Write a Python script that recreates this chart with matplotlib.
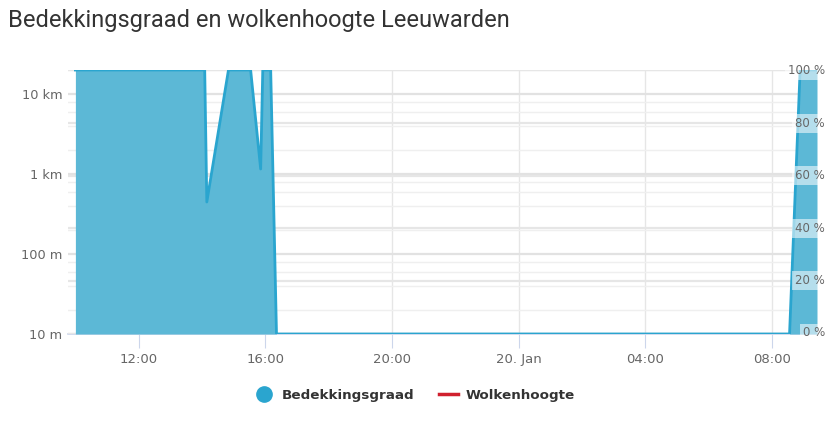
import matplotlib
matplotlib.use('Agg')
from matplotlib import pyplot as plt
from matplotlib.lines import Line2D
import pandas as pd

# Bedekkingsgraad (%)
times = ['2025-01-19 10:00', '2025-01-19 14:05', '2025-01-19 14:09', '2025-01-19 14:50',
         '2025-01-19 15:32', '2025-01-19 15:51', '2025-01-19 15:55', '2025-01-19 16:10',
         '2025-01-19 16:21', '2025-01-20 08:33', '2025-01-20 08:53', '2025-01-20 09:25']
bedekking = [100, 100, 50, 100, 100, 62.5, 100, 100, 0, 0, 100, 100]

# Wolkenhoogte (m): no data in this period
wolken_times = []
wolkenhoogte = []

x_ticks = ['2025-01-19 12:00', '2025-01-19 16:00', '2025-01-19 20:00',
           '2025-01-20 00:00', '2025-01-20 04:00', '2025-01-20 08:00']
x_labels = ['12:00', '16:00', '20:00', '20. Jan', '04:00', '08:00']
height_ticks = [10, 100, 1000, 10000]
height_labels = ['10 m', '100 m', '1 km', '10 km']
pct_ticks = [0, 20, 40, 60, 80, 100]
pct_labels = ['0 %', '20 %', '40 %', '60 %', '80 %', '100 %']

FILL = '#5cb8d6'
LINE = '#2aa5cf'
RED = '#d0202e'

plt.rcParams['font.family'] = ['DejaVu Sans']

fig = plt.figure(figsize=(8.29, 4.26), dpi=100)
ax = fig.add_axes([68 / 829, 1 - 334 / 426, (817 - 68) / 829, (334 - 70) / 426])
ax2 = ax.twinx()

t = pd.to_datetime(times)
xt = pd.to_datetime(x_ticks)
x0 = pd.Timestamp('2025-01-19 09:46')
x1 = pd.Timestamp('2025-01-20 09:25')

# left axis: log height
ax.set_yscale('log')
ax.set_ylim(10, 20000)
ax.set_xlim(x0, x1)
ax.set_yticks(height_ticks)
ax.set_yticklabels(height_labels)
minor = [m * d for d in [10, 100, 1000, 10000] for m in [2, 4, 6, 8]]
ax.set_yticks([v for v in minor if v <= 20000], minor=True)
ax.set_yticklabels([], minor=True)
ax.tick_params(axis='y', which='both', length=0, labelsize=9.3, labelcolor='#666666', pad=4)
ax.grid(True, axis='y', which='major', color='#e2e2e2', linewidth=1.6)
ax.grid(True, axis='y', which='minor', color='#efefef', linewidth=1)
ax.set_xticks(xt)
ax.set_xticklabels(x_labels)
ax.tick_params(axis='x', length=10, color='#ccd6eb', labelsize=9.5, labelcolor='#666666', pad=4)
ax.grid(True, axis='x', color='#e6e6e6', linewidth=1)
for s in ['top', 'right', 'left']:
    ax.spines[s].set_visible(False)
ax.spines['bottom'].set_color('#ccd6eb')
ax.spines['bottom'].set_linewidth(1.2)
ax.set_axisbelow(True)
ax.plot(pd.to_datetime(wolken_times), wolkenhoogte, color=RED, lw=2)

# right axis: coverage
ax2.set_ylim(0, 100)
ax2.set_yticks(pct_ticks)
ax2.set_yticklabels([])
ax2.tick_params(axis='y', length=0)
ax2.grid(True, axis='y', color='#e6e6e6', linewidth=1.6, zorder=0)
ax2.set_axisbelow(True)
for s in ax2.spines.values():
    s.set_visible(False)
ax2.fill_between(t, 0, bedekking, color=FILL, lw=0, zorder=2)
ax2.plot(t, bedekking, color=LINE, lw=2, zorder=3)

for v, lab in zip(pct_ticks, pct_labels):
    ax2.text(825 / 829, 1 - (333 - v * 2.62) / 426, lab, transform=fig.transFigure,
             ha='right', va='center', fontsize=8.5, color='#666666', zorder=5,
             bbox=dict(boxstyle='square,pad=0.25', facecolor='white', alpha=0.55, lw=0))

fig.text(8 / 829, 1 - 20 / 426, 'Bedekkingsgraad en wolkenhoogte Leeuwarden',
         fontsize=17, color='#333333', va='center', ha='left',
         family=['Roboto', 'DejaVu Sans'])

handles = [Line2D([], [], marker='o', ls='none', color='#2aa5cf', markersize=11),
           Line2D([], [], color=RED, lw=2.5)]
fig.legend(handles, ['Bedekkingsgraad', 'Wolkenhoogte'], loc='center',
           bbox_to_anchor=(415 / 829, 1 - 395 / 426), ncol=2, frameon=False,
           prop={'weight': 'bold', 'size': 9.7}, labelcolor='#333333',
           handlelength=1.4, handletextpad=0.6, columnspacing=1.8)

fig.savefig('out.png', dpi=100)
